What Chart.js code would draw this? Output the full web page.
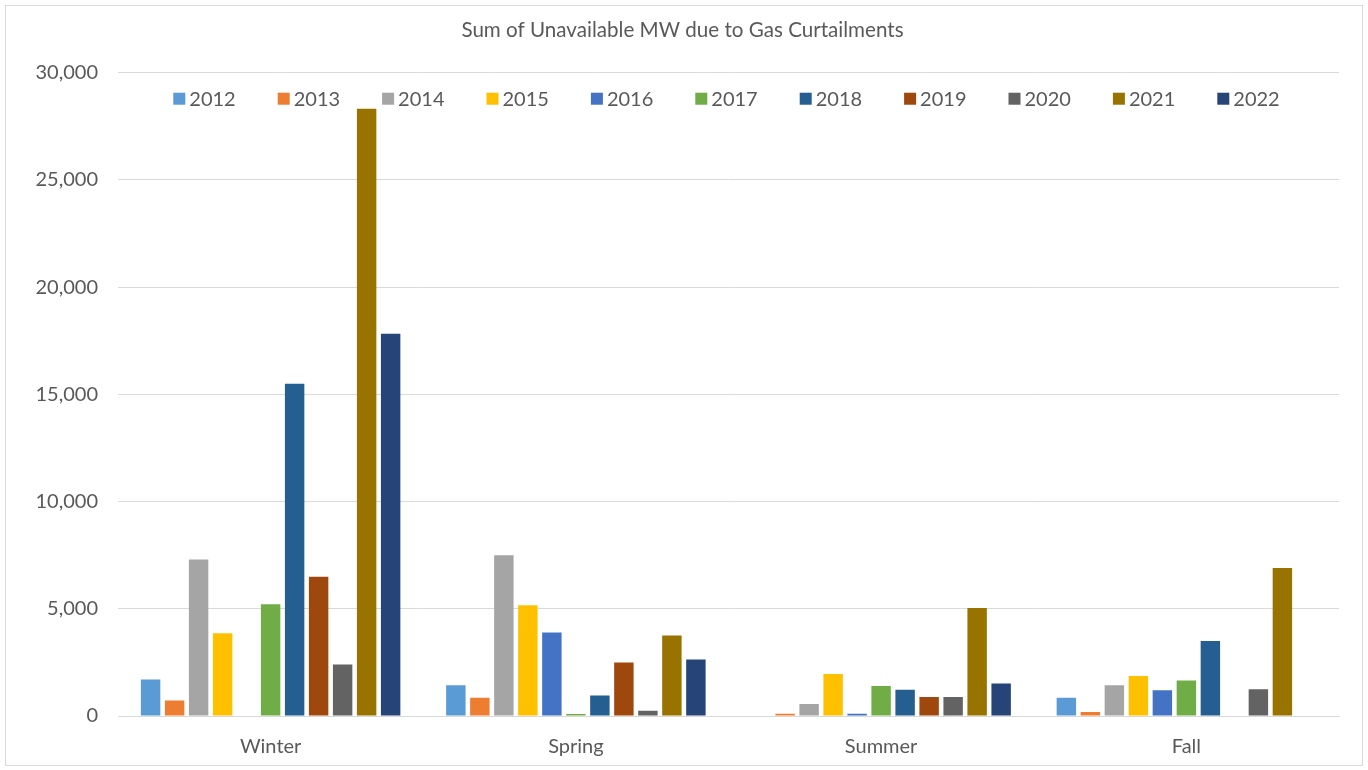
<!DOCTYPE html>
<html>
<head>
<meta charset="utf-8">
<script src="https://cdn.jsdelivr.net/npm/chart.js@4.4.1/dist/chart.umd.min.js"></script>
<style>
  html, body { margin: 0; padding: 0; background: #ffffff; }
  #wrap {
    position: absolute; left: 5px; top: 5px;
    width: 1358px; height: 761px;
    border: 1px solid #D9D9D9; box-sizing: border-box;
    background: #ffffff;
  }
  #chart { display: block; }
</style>
</head>
<body>
<div id="wrap"><canvas id="chart" width="1356" height="759"></canvas></div>
<script>
// Seasons on the category axis
const seasons = ['Winter', 'Spring', 'Summer', 'Fall'];

// Unavailable MW per season, one array per year (null = no bar)
const y2012 = [1700, 1430, null, 850];
const y2013 = [720, 850, 110, 190];
const y2014 = [7300, 7500, 560, 1430];
const y2015 = [3860, 5160, 1960, 1870];
const y2016 = [null, 3890, 110, 1200];
const y2017 = [5210, 90, 1400, 1650];
const y2018 = [15490, 960, 1230, 3500];
const y2019 = [6490, 2490, 890, null];
const y2020 = [2400, 250, 890, 1245];
const y2021 = [28320, 3760, 5040, 6900];
const y2022 = [17830, 2640, 1510, null];

const years = ['2012', '2013', '2014', '2015', '2016', '2017', '2018', '2019', '2020', '2021', '2022'];
const yearValues = [y2012, y2013, y2014, y2015, y2016, y2017, y2018, y2019, y2020, y2021, y2022];
const yearColors = ['#5B9BD5', '#ED7D31', '#A5A5A5', '#FFC000', '#4472C4', '#70AD47',
                    '#255E91', '#9E480E', '#636363', '#997300', '#264478'];

// Value axis ticks
const yTickValues = [0, 5000, 10000, 15000, 20000, 25000, 30000];

const FONT = 'Lato, "Open Sans", sans-serif';
const TEXT = '#595959';
const GRID = '#D9D9D9';

// Legend row drawn inside the plot area, centred over it
const insideLegend = {
  id: 'insideLegend',
  afterDraw(chart) {
    const ctx = chart.ctx;
    const area = chart.chartArea;
    const box = 12, gapText = 4, gapItem = 42;
    ctx.save();
    ctx.font = '20px ' + FONT;
    ctx.textBaseline = 'middle';
    ctx.textAlign = 'left';
    const items = chart.data.datasets.map(ds => ({
      label: ds.label, color: ds.backgroundColor,
      w: box + gapText + ctx.measureText(ds.label).width
    }));
    const total = items.reduce((s, it) => s + it.w, 0) + gapItem * (items.length - 1);
    let x = (area.left + area.right) / 2 - total / 2 - 2;
    const cy = area.top + 26;
    items.forEach(it => {
      ctx.fillStyle = it.color;
      ctx.fillRect(x, cy - box / 2, box, box);
      ctx.fillStyle = TEXT;
      ctx.fillText(it.label, x + box + gapText, cy + 1);
      x += it.w + gapItem;
    });
    ctx.restore();
  }
};

const datasets = years.map((yr, i) => ({
  label: yr,
  data: yearValues[i],
  backgroundColor: yearColors[i],
  borderWidth: 0,
  categoryPercentage: 0.865,
  barPercentage: 0.81
}));

new Chart(document.getElementById('chart'), {
  type: 'bar',
  data: { labels: seasons, datasets },
  plugins: [insideLegend],
  options: {
    responsive: false,
    animation: false,
    layout: { padding: { left: 20, right: 23, top: 0, bottom: 0 } },
    plugins: {
      legend: { display: false },
      tooltip: { enabled: false },
      title: {
        display: true,
        text: 'Sum of Unavailable MW due to Gas Curtailments',
        color: TEXT,
        font: { family: FONT, size: 20.6, weight: 'normal' },
        padding: { top: 12, bottom: 30 }
      }
    },
    scales: {
      x: {
        grid: { display: false, drawTicks: false },
        border: { display: true, color: GRID, width: 1 },
        ticks: { color: TEXT, font: { family: FONT, size: 20 }, padding: 19 },
        afterFit(s) { s.height = 49; }
      },
      y: {
        min: 0, max: 30000,
        afterBuildTicks(s) { s.ticks = yTickValues.map(v => ({ value: v })); },
        grid: { color: GRID, lineWidth: 1, drawTicks: false },
        border: { display: false },
        ticks: {
          color: TEXT, font: { family: FONT, size: 20 }, padding: 20,
          callback: v => v.toLocaleString('en-US')
        },
        afterFit(s) { s.width = 92; }
      }
    }
  }
});
</script>
</body>
</html>
